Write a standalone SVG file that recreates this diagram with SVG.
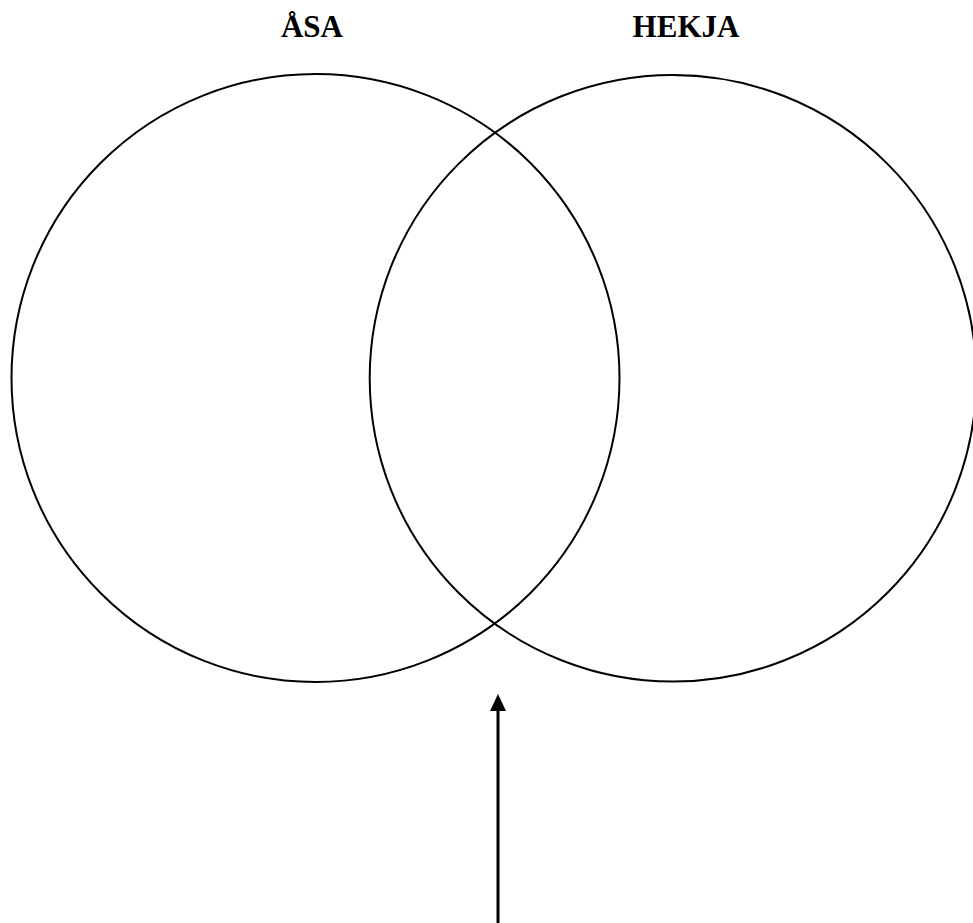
<svg xmlns="http://www.w3.org/2000/svg" width="973" height="923" viewBox="0 0 973 923">
<style>
.c{fill:none;stroke:#000;stroke-width:2}
.t{font-family:"Liberation Serif","Times New Roman",serif;font-weight:bold;font-size:31px;fill:#000;text-anchor:middle}
</style>
<rect width="973" height="923" fill="#fff"/>
<g id="asa">
<circle class="c" cx="315.5" cy="378" r="304"/>
<text class="t" x="312" y="37">ÅSA</text>
</g>
<g id="hekja">
<circle class="c" cx="673" cy="378.3" r="303.3"/>
<text class="t" x="686" y="37">HEKJA</text>
</g>
<g id="connectors">
<line x1="498" y1="925" x2="498" y2="710" stroke="#000" stroke-width="3"/>
<path d="M498 694 L506 711 L490 711 Z" fill="#000"/>
</g>
</svg>
